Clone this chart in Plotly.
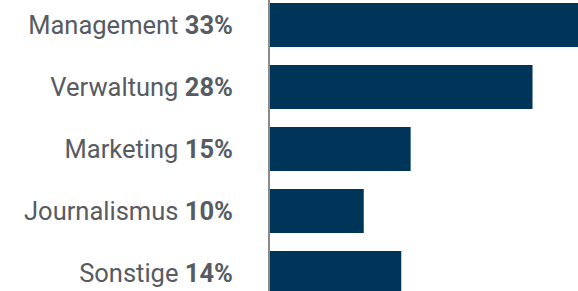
import plotly.graph_objects as go

categories = ["Management", "Verwaltung", "Marketing", "Journalismus", "Sonstige"]
values = [33, 28, 15, 10, 14]

ticktext = [f"{c} <b>{v}%</b>" for c, v in zip(categories, values)]

fig = go.Figure(go.Bar(
    x=values, y=categories, orientation="h",
    marker=dict(color="#00355a", line=dict(width=0)),
    width=0.71,
))
fig.update_layout(
    width=578, height=291,
    margin=dict(l=270, r=0, t=0, b=0, autoexpand=False),
    paper_bgcolor="white", plot_bgcolor="white",
    showlegend=False,
    font=dict(family="Roboto", size=25.5, color="#575b62"),
)
fig.update_yaxes(
    categoryorder="array", categoryarray=categories,
    tickvals=categories, ticktext=ticktext,
    range=[4.29, -0.403], autorange=False, automargin=False,
    showline=True, linecolor="#8a8a8a", linewidth=2,
    showgrid=False, ticks="", ticklabelstandoff=30,
)
fig.update_xaxes(range=[0, 32.85], visible=False, showgrid=False, automargin=False)
fig.write_html("out.html", config={"displayModeBar": False},
               post_script="document.body.style.margin='0';document.body.style.overflow='hidden';")
